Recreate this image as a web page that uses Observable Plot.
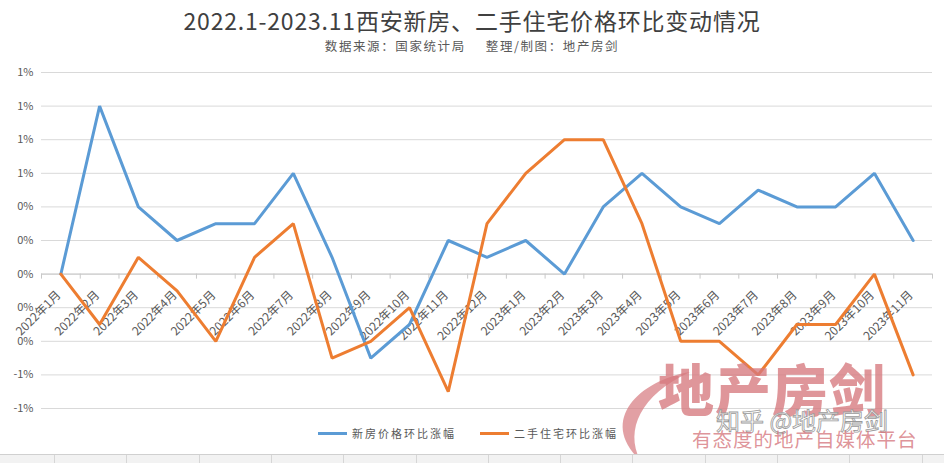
<!DOCTYPE html>
<html><head><meta charset="utf-8">
<script src="https://cdn.jsdelivr.net/npm/d3@7"></script>
<script src="https://cdn.jsdelivr.net/npm/@observablehq/plot@0.6"></script>
<style>
body{margin:0;background:#fff;font-family:"Noto Sans CJK SC","Noto Sans",sans-serif;}
#wrap{position:relative;width:944px;height:463px;overflow:hidden;background:#fff;}
#title{position:absolute;left:0;top:7px;width:944px;text-align:center;font-size:23px;line-height:27px;color:#404040;letter-spacing:0.8px;}
#sub{position:absolute;left:0;top:37px;width:944px;text-align:center;font-size:12.5px;line-height:17px;color:#595959;letter-spacing:1.6px;}
#sub span+span{margin-left:20px;}
#chart{position:absolute;left:0;top:58px;width:944px;}
#legend{position:absolute;left:0;top:424px;width:944px;height:18px;font-size:11px;color:#595959;letter-spacing:2px;}
.lg{position:absolute;top:0;display:flex;align-items:center;height:18px;}
.sw{width:29px;height:3px;margin-right:5px;}
.wm1{position:absolute;left:658px;top:352px;font-size:56px;font-weight:900;color:rgba(214,120,126,0.78);letter-spacing:1px;line-height:70px;}
.wm2{position:absolute;left:716px;top:405px;font-size:24px;color:rgba(255,255,255,0.85);-webkit-text-stroke:0.8px #9a9a9a;line-height:30px;letter-spacing:0px;}
.wm3{position:absolute;left:692px;top:426px;font-size:19.5px;color:rgba(214,120,126,0.8);line-height:26px;letter-spacing:1px;}
#foot{position:absolute;left:0;top:454px;width:944px;height:9px;border-top:1px solid #d0d0d0;background:repeating-linear-gradient(90deg,#f2f2f2 0px,#f2f2f2 53px,#d6d6d6 53px,#d6d6d6 54px,#f2f2f2 54px,#f2f2f2 72.3px);background-position:1px 0;}
</style></head><body>
<div id="wrap">
  <div id="title"></div>
  <div id="sub"></div>
  <div id="chart"></div>
  <svg style="position:absolute;left:0;top:0" width="944" height="463"><path d="M690,372 C640,380 598,420 640,460 C625,430 640,395 690,372 Z" fill="rgba(214,120,126,0.7)"/></svg>
  <div class="wm1">地产房剑</div>
  <div class="wm2">知乎 @地产房剑</div>
  <div class="wm3">有态度的地产自媒体平台</div>
  <div id="legend"></div>
  <div id="foot"></div>
</div>
<script>
const titleText = "2022.1-2023.11西安新房、二手住宅价格环比变动情况";
const subParts = ["数据来源：国家统计局", "整理/制图：地产房剑"];
const months = ["2022年1月","2022年2月","2022年3月","2022年4月","2022年5月","2022年6月","2022年7月","2022年8月","2022年9月","2022年10月","2022年11月","2022年12月","2023年1月","2023年2月","2023年3月","2023年4月","2023年5月","2023年6月","2023年7月","2023年8月","2023年9月","2023年10月","2023年11月"];
const newHome = [0, 1.0, 0.4, 0.2, 0.3, 0.3, 0.6, 0.1, -0.5, -0.3, 0.2, 0.1, 0.2, 0.0, 0.4, 0.6, 0.4, 0.3, 0.5, 0.4, 0.4, 0.6, 0.2];
const resale = [0, -0.3, 0.1, -0.1, -0.4, 0.1, 0.3, -0.5, -0.4, -0.2, -0.7, 0.3, 0.6, 0.8, 0.8, 0.3, -0.4, -0.4, -0.6, -0.3, -0.3, 0.0, -0.6];
const seriesNames = ["新房价格环比涨幅", "二手住宅环比涨幅"];
const seriesColors = ["#5b9bd5", "#ed7d31"];
const yTicks = [-0.8, -0.6, -0.4, -0.2, 0, 0.2, 0.4, 0.6, 0.8, 1.0, 1.2];

document.getElementById("title").textContent = titleText;
const sub = document.getElementById("sub");
subParts.forEach(t => { const s = document.createElement("span"); s.textContent = t; sub.appendChild(s); });

const rows = [];
months.forEach((m, i) => {
  rows.push({month: m, value: newHome[i], series: seriesNames[0]});
});
months.forEach((m, i) => {
  rows.push({month: m, value: resale[i], series: seriesNames[1]});
});

const W = 944, H = 365, mL = 41, mR = 12, mT = 14, mB = 15;
const step = (W - mL - mR) / months.length;

const chart = Plot.plot({
  width: W, height: H,
  marginLeft: mL, marginRight: mR, marginTop: mT, marginBottom: mB,
  style: {fontFamily: '"Noto Sans CJK SC", sans-serif', background: "transparent"},
  x: {type: "point", domain: months, padding: 0.5, round: false, axis: null},
  y: {domain: [-0.8, 1.2], axis: null},
  color: {domain: seriesNames, range: seriesColors},
  marks: [
    Plot.gridY(yTicks, {stroke: "#d9d9d9", strokeOpacity: 1, strokeWidth: 1}),
    Plot.axisY(yTicks, {tickSize: 0, tickPadding: 8, tickFormat: d => Math.round(d) + "%", fontSize: 11, fill: "#595959", label: null}),
    Plot.ruleY([0], {stroke: "#c8c8c8", strokeWidth: 1}),
    Plot.ruleX(months, {x: d => d, y1: 0, y2: -0.03, dx: -step / 2, stroke: "#c8c8c8"}),
    Plot.ruleX([months[months.length - 1]], {x: d => d, y1: 0, y2: -0.03, dx: step / 2, stroke: "#c8c8c8"}),
    Plot.text(months, {x: d => d, y: 0, text: d => d, rotate: -45, textAnchor: "end", dx: -2, dy: 19, fontSize: 12, fill: "#595959"}),
    Plot.line(rows, {x: "month", y: "value", z: "series", stroke: "series", strokeWidth: 3, strokeLinejoin: "miter", curve: "linear"})
  ]
});
document.getElementById("chart").appendChild(chart);

const legend = document.getElementById("legend");
const lgX = [318, 480];
seriesNames.forEach((n, i) => {
  const d = document.createElement("div");
  d.className = "lg"; d.style.left = lgX[i] + "px";
  const sw = document.createElement("div"); sw.className = "sw"; sw.style.background = seriesColors[i];
  const t = document.createElement("span"); t.textContent = n;
  d.appendChild(sw); d.appendChild(t); legend.appendChild(d);
});
</script>
</body></html>
